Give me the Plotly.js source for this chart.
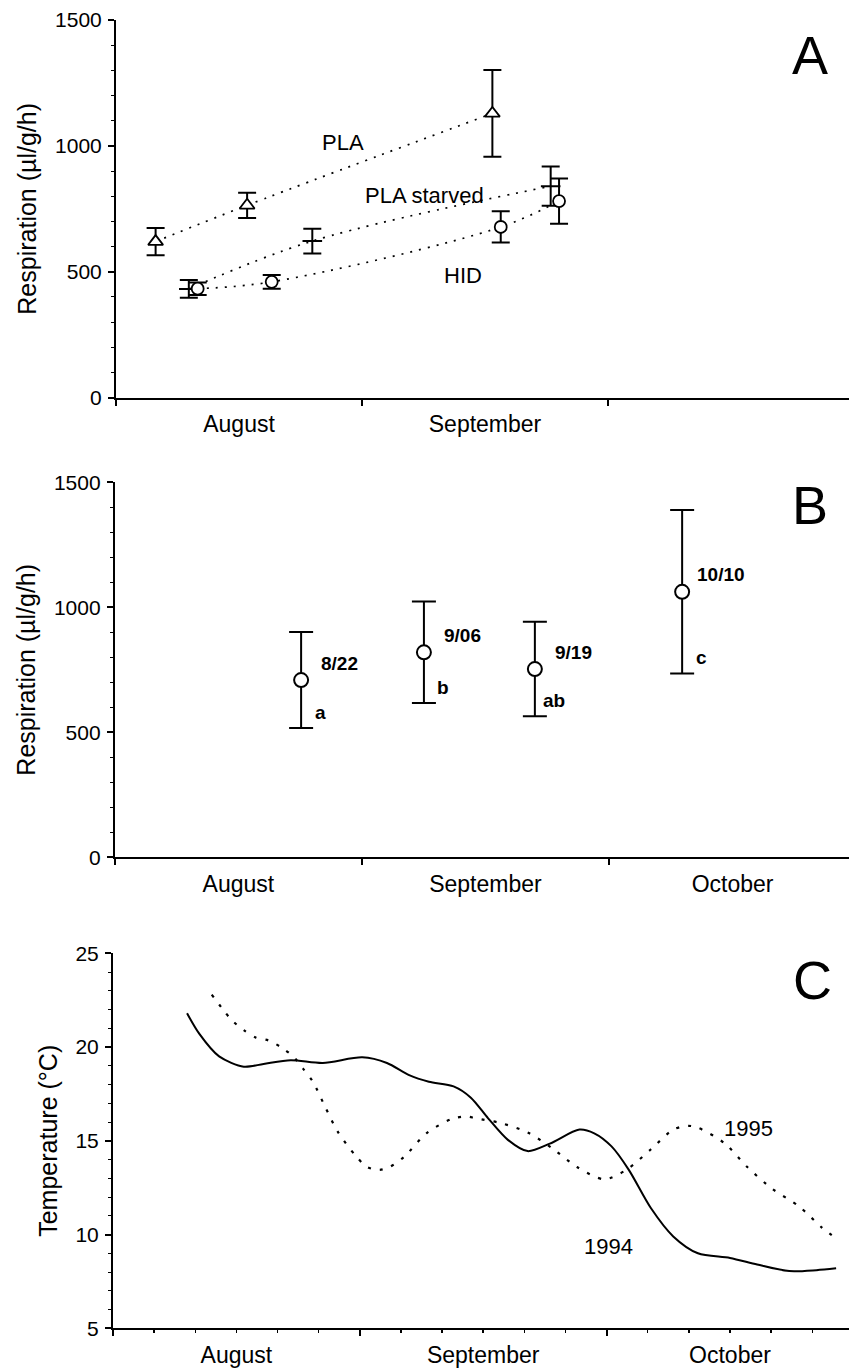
<!DOCTYPE html>
<html>
<head>
<meta charset="utf-8">
<script src="https://cdn.plot.ly/plotly-3.0.1.min.js"></script>
<style>
  html, body { margin: 0; padding: 0; background: #fff; }
  #chart { width: 849px; height: 1371px; }
</style>
</head>
<body>
<div id="chart"></div>
<script>
// ---------- shared month axis (x in months, 0 = 1 August) ----------
const monthNames  = ['August', 'September', 'October'];
const monthStarts = [0, 1, 2];
const monthMids   = [0.5, 1.5, 2.5];

// ---------- Panel A : respiration by group ----------
const plaX       = [0.161, 0.533, 1.530];
const plaY       = [620, 764, 1129];
const plaErr     = [54, 50, 172];

const starvedX   = [0.296, 0.798, 1.767];
const starvedY   = [432, 622, 840];
const starvedErr = [35, 49, 78];

const hidX       = [0.332, 0.633, 1.564, 1.801];
const hidY       = [433, 460, 678, 781];
const hidErr     = [25, 27, 62, 90];

// ---------- Panel B : respiration by date ----------
const dateX      = [0.754, 1.251, 1.700, 2.296];
const dateY      = [709, 820, 753, 1062];
const dateErr    = [192, 203, 189, 327];
const dateLabels = ['8/22', '9/06', '9/19', '10/10'];
const groupLabels = ['a', 'b', 'ab', 'c'];

// ---------- Panel C : water temperature ----------
const t1994X = [0.30, 0.35, 0.43, 0.53, 0.61, 0.72, 0.85, 1.01, 1.11, 1.20, 1.28, 1.38, 1.45, 1.52,
                1.60, 1.68, 1.77, 1.89, 1.95, 2.02, 2.09, 2.18, 2.27, 2.37, 2.50, 2.61, 2.74, 2.85, 2.93];
const t1994Y = [21.8, 20.7, 19.5, 18.95, 19.1, 19.3, 19.15, 19.45, 19.15, 18.5, 18.15, 17.9, 17.3, 16.2,
                15.05, 14.45, 14.85, 15.6, 15.4, 14.7, 13.45, 11.4, 9.9, 9.0, 8.75, 8.4, 8.05, 8.1, 8.2];

const t1995X = [0.40, 0.44, 0.48, 0.53, 0.58, 0.63, 0.68, 0.73, 0.77, 0.81, 0.86, 0.91, 0.98, 1.03,
                1.08, 1.12, 1.18, 1.27, 1.37, 1.43, 1.47, 1.57, 1.68, 1.78, 1.88, 1.99, 2.08, 2.18,
                2.27, 2.33, 2.37, 2.48, 2.57, 2.67, 2.78, 2.87, 2.93];
const t1995Y = [22.8, 22.1, 21.45, 20.9, 20.5, 20.35, 20.0, 19.5, 18.85, 18.15, 16.8, 15.5, 14.25, 13.6,
                13.45, 13.6, 14.15, 15.4, 16.15, 16.3, 16.2, 15.95, 15.45, 14.6, 13.6, 12.95, 13.45, 14.55,
                15.6, 15.8, 15.7, 14.85, 13.6, 12.45, 11.5, 10.4, 9.8];

// ---------- styling ----------
const FONT = 'Liberation Sans, Arial, Helvetica, sans-serif';
const W = 849, H = 1371;
const dotDash = '2px,7px';

function errY(arr, w) {
  return { type: 'data', array: arr, visible: true, color: '#000', thickness: 2, width: w };
}

const traces = [
  { x: plaX, y: plaY, xaxis: 'x', yaxis: 'y', mode: 'lines+markers', name: 'PLA',
    line: { color: '#000', width: 1.7, dash: dotDash, shape: 'spline' },
    marker: { symbol: 'triangle-up', size: 13, color: '#fff', line: { color: '#000', width: 1.8 } },
    error_y: errY(plaErr, 9) },
  { x: starvedX, y: starvedY, xaxis: 'x', yaxis: 'y', mode: 'lines+markers', name: 'PLA starved',
    line: { color: '#000', width: 1.7, dash: dotDash, shape: 'spline' },
    marker: { symbol: 'line-ew', size: 14, color: '#000', line: { color: '#000', width: 2 } },
    error_y: errY(starvedErr, 9) },
  { x: hidX, y: hidY, xaxis: 'x', yaxis: 'y', mode: 'lines+markers', name: 'HID',
    line: { color: '#000', width: 1.7, dash: dotDash, shape: 'spline' },
    marker: { symbol: 'circle', size: 12, color: '#fff', line: { color: '#000', width: 1.8 } },
    error_y: errY(hidErr, 9) },
  { x: dateX, y: dateY, xaxis: 'x2', yaxis: 'y2', mode: 'markers', name: 'dates',
    marker: { symbol: 'circle', size: 14, color: '#fff', line: { color: '#000', width: 2 } },
    error_y: errY(dateErr, 12) },
  { x: t1994X, y: t1994Y, xaxis: 'x3', yaxis: 'y3', mode: 'lines', name: '1994',
    line: { color: '#000', width: 2, shape: 'spline', smoothing: 0.8 } },
  { x: t1995X, y: t1995Y, xaxis: 'x4', yaxis: 'y3', mode: 'lines', name: '1995',
    line: { color: '#000', width: 2.2, dash: '3px,9px', shape: 'spline', smoothing: 0.8 } }
];

const px = v => v / W;
const py = v => 1 - v / H;

function monthAxis(left, anchor, range, n, minor) {
  return {
    domain: [px(left), 1], range: range, anchor: anchor,
    tickmode: 'array', tickvals: monthMids.slice(0, n), ticktext: monthNames.slice(0, n),
    ticks: '', ticklabelstandoff: 5,
    tickfont: { family: FONT, size: 23, color: '#000' },
    minor: minor,
    showline: true, linewidth: 2, linecolor: '#000',
    showgrid: false, zeroline: false, fixedrange: true
  };
}
function yAxis(anchorX, top, bottom, range, major, minor, title) {
  return {
    anchor: anchorX, domain: [py(bottom), py(top)], range: range,
    tickmode: 'linear', tick0: range[0], dtick: major,
    ticks: 'outside', ticklen: 6, tickwidth: 2, tickcolor: '#000',
    minor: { tickmode: 'linear', tick0: range[0], dtick: minor, ticks: 'outside', ticklen: 3, tickwidth: 1, tickcolor: '#000' },
    showline: true, linewidth: 2, linecolor: '#000', showgrid: false, zeroline: false,
    tickfont: { family: FONT, size: 21, color: '#000' }, ticklabelstandoff: 2,
    title: { text: title, font: { family: FONT, size: 25, color: '#000' }, standoff: 11 },
    fixedrange: true
  };
}

const rangeA = [0, 733 / 246];
const rangeB = [0, 734.2 / 247.1];
const rangeC = [0, 736 / 246.8];

const boundaryTicks = { tickmode: 'array', tickvals: monthStarts, ticks: 'outside', ticklen: 6, tickwidth: 2, tickcolor: '#000' };

const layout = {
  width: W, height: H,
  margin: { l: 0, r: 0, t: 0, b: 0, pad: 0 },
  paper_bgcolor: '#fff', plot_bgcolor: '#fff',
  showlegend: false,
  font: { family: FONT, color: '#000' },

  xaxis:  monthAxis(116, 'y', rangeA, 2, boundaryTicks),
  xaxis2: monthAxis(114.8, 'y2', rangeB, 3, boundaryTicks),
  xaxis3: monthAxis(113, 'y3', rangeC, 3,
    { tickmode: 'linear', tick0: 0, dtick: 1 / 6, ticks: 'outside', ticklen: 3, tickwidth: 1.5, tickcolor: '#000' }),
  // second x axis of panel C (same scale): carries the 1995 series and the long month-boundary ticks
  xaxis4: {
    overlaying: 'x3', anchor: 'y3', side: 'bottom', range: rangeC,
    tickmode: 'array', tickvals: monthStarts, showticklabels: false,
    ticks: 'outside', ticklen: 7, tickwidth: 2, tickcolor: '#000',
    showline: false, showgrid: false, zeroline: false, fixedrange: true
  },

  yaxis:  yAxis('x', 20, 397.7, [0, 1500], 500, 100, 'Respiration (µl/g/h)'),
  yaxis2: yAxis('x2', 482.3, 857.3, [0, 1500], 500, 100, 'Respiration (µl/g/h)'),
  yaxis3: yAxis('x3', 953.3, 1328.3, [5, 25], 5, 1, 'Temperature (°C)'),

  annotations: []
};

const ann = layout.annotations;
const txt = (size, bold) => ({ family: FONT, size: size, color: '#000', weight: bold ? 'bold' : 'normal' });

// panel letters
[['A', 809.5, 55], ['B', 810, 505], ['C', 812.5, 980]].forEach(([t, x, y]) => {
  ann.push({ text: t, xref: 'paper', yref: 'paper', x: px(x), y: py(y),
             xanchor: 'center', yanchor: 'middle', showarrow: false, font: txt(54) });
});

// panel A series labels
ann.push({ text: 'PLA', xref: 'x', yref: 'y', x: 0.923, y: 1015, showarrow: false, font: txt(22) });
ann.push({ text: 'PLA starved', xref: 'x', yref: 'y', x: 1.256, y: 804, showarrow: false, font: txt(22) });
ann.push({ text: 'HID', xref: 'x', yref: 'y', x: 1.412, y: 487, showarrow: false, font: txt(22) });

// panel B date and group labels, placed relative to each point
dateX.forEach((x, i) => {
  ann.push({ text: dateLabels[i], xref: 'x2', yref: 'y2', x: x, y: dateY[i],
             xshift: 38.5, yshift: 17, showarrow: false, font: txt(19, true) });
  ann.push({ text: groupLabels[i], xref: 'x2', yref: 'y2', x: x, y: dateY[i] - dateErr[i],
             xshift: 19.5, yshift: 16, showarrow: false, font: txt(19, true) });
});

// panel C year labels
ann.push({ text: '1995', xref: 'x3', yref: 'y3', x: 2.574, y: 15.63, showarrow: false, font: txt(22) });
ann.push({ text: '1994', xref: 'x3', yref: 'y3', x: 2.007, y: 9.35, showarrow: false, font: txt(22) });

Plotly.newPlot('chart', traces, layout, { staticPlot: true, displayModeBar: false });
</script>
</body>
</html>
